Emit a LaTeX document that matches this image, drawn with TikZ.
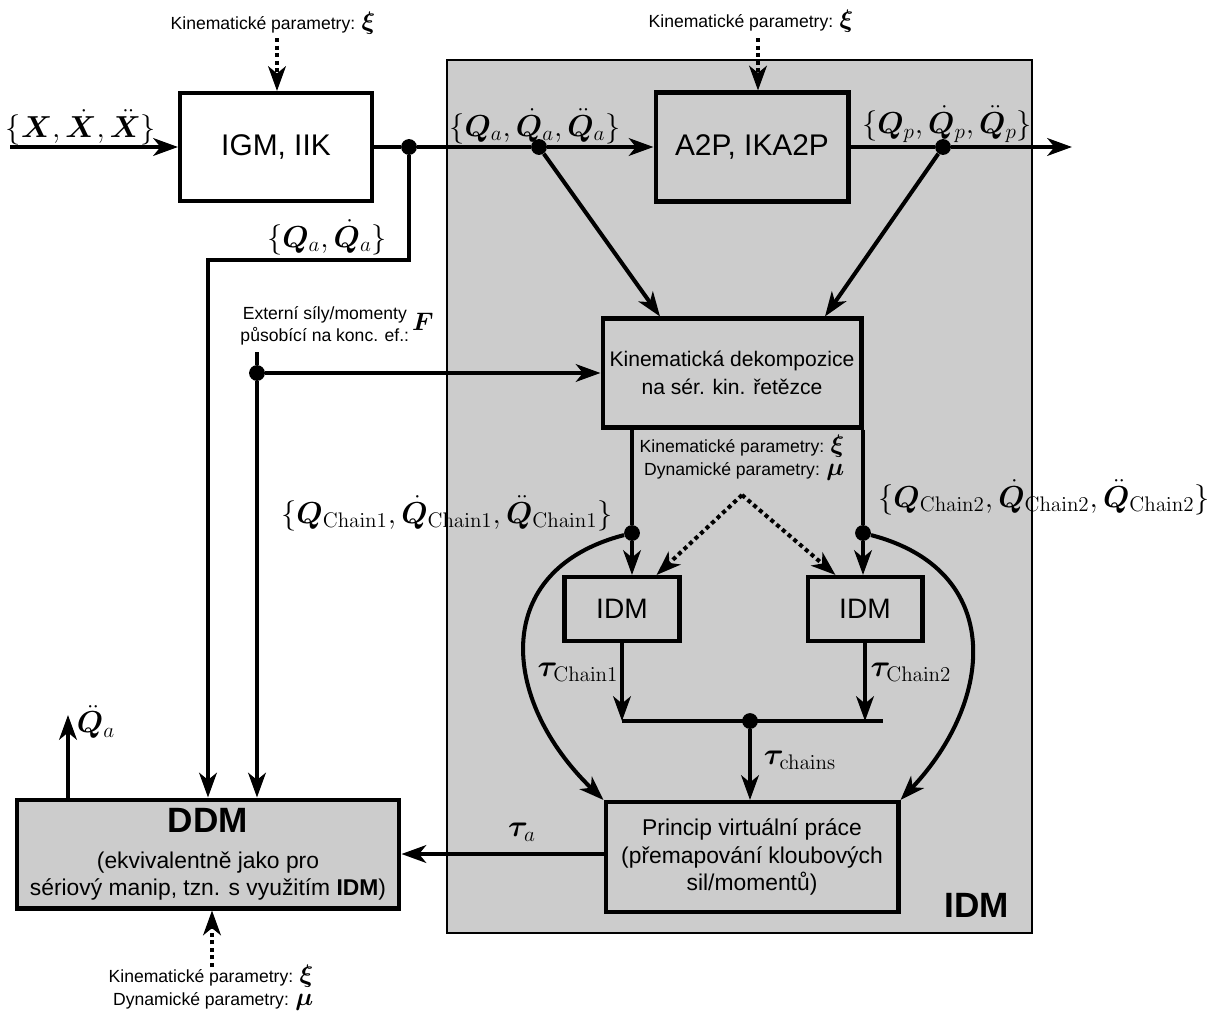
\documentclass[tikz,border=0pt]{standalone}
\usepackage[no-math]{fontspec}
\setmainfont{Liberation Sans}
\usepackage{amsmath, amssymb}
\usepackage{bm}
\usetikzlibrary{arrows.meta}

\newcommand{\kxi}{{\fontsize{14}{14}\selectfont$\bm{\xi}$}}
\newcommand{\dmu}{{\fontsize{14}{14}\selectfont$\bm{\mu}$}}

\tikzset{
	blok/.style = {draw, line width = 2.3pt, inner sep = 0pt, align = center},
	tecka/.style = {circle, fill, inner sep = 0pt, minimum size = 9pt},
	popis/.style = {font = \fontsize{10}{13}\selectfont, inner sep = 0pt, align = right},
	vzorec/.style = {font = \fontsize{17}{20}\selectfont, inner sep = 0pt},
	car/.style = {line width = 2.3pt},
	spoj/.style = {car, -{Stealth[length = 14pt, width = 10pt, inset = 4pt]}},
	tecky/.style = {spoj, dotted},
}

\begin{document}
\begin{tikzpicture}[x = 0.02cm, y = -0.02cm]
		\useasboundingbox (0,0) rectangle (1227,1014);
		\draw [line width = 1.1pt, fill = gray!40] (447,60) rectangle (1032,933);
		\node (lIDM) at (977,905) [font = \fontsize{20}{24}\selectfont\bfseries] {IDM};

		\node (IGM) at (276,147) [blok, minimum width = 3.84cm, minimum height = 2.16cm, font = \fontsize{17}{20}\selectfont] {IGM, IIK};
		\node (A2P) at (752,147) [blok, minimum width = 3.86cm, minimum height = 2.18cm, font = \fontsize{17}{20}\selectfont] {A2P, IKA2P};
		\node (Dek) at (732,373) [blok, minimum width = 5.18cm, minimum height = 2.18cm, font = \fontsize{12}{16}\selectfont] {Kinematická dekompozice\\na sér. kin. řetězce};
		\node (IDMa) at (622,609) [blok, minimum width = 2.3cm, minimum height = 1.28cm, font = \fontsize{16}{19}\selectfont] {IDM};
		\node (IDMb) at (865,609) [blok, minimum width = 2.3cm, minimum height = 1.28cm, font = \fontsize{16}{19}\selectfont] {IDM};
		\node (PVP) at (752,857) [blok, minimum width = 5.86cm, minimum height = 2.2cm, font = \fontsize{13}{15.5}\selectfont] {Princip virtuální práce\\(přemapování kloubových\\sil/momentů)};
		\node (DDM) at (208,854) [blok, fill = gray!40, minimum width = 7.66cm, minimum height = 2.18cm, font = \fontsize{13}{15.5}\selectfont]
			{{\fontsize{20}{24}\selectfont\bfseries DDM}\\[5pt](ekvivalentně jako pro\\sériový manip, tzn. s využitím \textbf{IDM})};

		\node (d1) at (409,147) [tecka] {};
		\node (d2) at (539,147) [tecka] {};
		\node (d3) at (943,147) [tecka] {};
		\node (dF) at (257,373) [tecka] {};
		\node (d4) at (632,533) [tecka] {};
		\node (d5) at (863,533) [tecka] {};
		\node (d6) at (750,721) [tecka] {};
		\coordinate (cIn) at (10,147);
		\coordinate (cOut) at (1072,147);
		\coordinate (c1) at (208,260);
		\coordinate (cF) at (257,352);
		\coordinate (h1) at (622,721);
		\coordinate (h2) at (883,721);
		\coordinate (cQ) at (68,715);
		\coordinate (k1) at (277,38);
		\coordinate (k2) at (758,38);
		\coordinate (k3) at (212,967);
		\coordinate (cV) at (742,495);

		\draw [spoj] (cIn) -- (IGM.west);
		\draw [car] (IGM.east) -- (d1) -- (d2);
		\draw [spoj] (d2) -- (A2P.west);
		\draw [car] (A2P.east) -- (d3);
		\draw [spoj] (d3) -- (cOut);
		\draw [spoj] (d2) -- ([xshift = -1.44cm]Dek.north);
		\draw [spoj] (d3) -- ([xshift = 1.86cm]Dek.north);
		\draw [spoj] (d1) |- (c1) -- (c1 |- DDM.north);
		\draw [car] (cF) -- (dF);
		\draw [spoj] (dF) -- (dF |- DDM.north);
		\draw [spoj] (dF) -- (Dek.west);

		\draw [car] (Dek.south -| d4) -- (d4);
		\draw [car] (Dek.south -| d5) -- (d5);
		\draw [spoj] (d4) -- (d4 |- IDMa.north);
		\draw [spoj] (d5) -- (d5 |- IDMb.north);
		\draw [spoj] (d4) .. controls (490,570) and (500,700) .. (PVP.north west);
		\draw [spoj] (d5) .. controls (1005,570) and (995,700) .. (PVP.north east);

		\draw [spoj] (IDMa.south) -- (IDMa.south |- h1);
		\draw [spoj] (IDMb.south) -- (IDMb.south |- h1);
		\draw [car] (h1) -- (h2);
		\draw [spoj] (d6) -- (d6 |- PVP.north);
		\draw [spoj] (PVP.west |- DDM.east) -- (DDM.east);
		\draw [spoj] (cQ |- DDM.north) -- (cQ);

		\draw [tecky] (k1) -- (k1 |- IGM.north);
		\draw [tecky] (k2) -- (k2 |- A2P.north);
		\draw [tecky] (k3) -- (k3 |- DDM.south);
		\draw [tecky] (cV) -- ([xshift = -0.5cm]IDMa.north east);
		\draw [tecky] (cV) -- ([xshift = 0.6cm]IDMb.north west);

		\node (lK1) at (273,23) [popis] {Kinematické parametry: \kxi};
		\node (lK2) at (751,21) [popis] {Kinematické parametry: \kxi};
		\node (lKm) at (742,458) [popis] {Kinematické parametry: \kxi\\Dynamické parametry: \dmu};
		\node (lKd) at (211,988) [popis] {Kinematické parametry: \kxi\\Dynamické parametry: \dmu};
		\node (lF) at (337,326) [popis, align = center]
			{\begin{tabular}{@{}c@{}}Externí síly/momenty\\působící na konc. ef.:\end{tabular}\,{\fontsize{14}{14}\selectfont$\bm{F}$}};

		\node (lX) at (81,127) [vzorec] {$\{\bm{X},\dot{\bm{X}},\ddot{\bm{X}}\}$};
		\node (lQa) at (535,126) [vzorec] {$\{\bm{Q}_a,\dot{\bm{Q}}_a,\ddot{\bm{Q}}_a\}$};
		\node (lQp) at (947,124) [vzorec] {$\{\bm{Q}_p,\dot{\bm{Q}}_p,\ddot{\bm{Q}}_p\}$};
		\node (lQaQ) at (327,237) [vzorec] {$\{\bm{Q}_a,\dot{\bm{Q}}_a\}$};
		\node (lQc1) at (447,513) [vzorec, font = \fontsize{17.8}{20}\selectfont] {$\{\bm{Q}_{\mathrm{Chain1}},\dot{\bm{Q}}_{\mathrm{Chain1}},\ddot{\bm{Q}}_{\mathrm{Chain1}}\}$};
		\node (lQc2) at (1044,497) [vzorec, font = \fontsize{17.8}{20}\selectfont] {$\{\bm{Q}_{\mathrm{Chain2}},\dot{\bm{Q}}_{\mathrm{Chain2}},\ddot{\bm{Q}}_{\mathrm{Chain2}}\}$};
		\node (lt1) at (578,672) [vzorec] {$\bm{\tau}_{\mathrm{Chain1}}$};
		\node (lt2) at (911,672) [vzorec] {$\bm{\tau}_{\mathrm{Chain2}}$};
		\node (ltc) at (800,760) [vzorec] {$\bm{\tau}_{\mathrm{chains}}$};
		\node (lta) at (522,832) [vzorec] {$\bm{\tau}_a$};
		\node (lQdd) at (96,722) [vzorec] {$\ddot{\bm{Q}}_a$};
\end{tikzpicture}
\end{document}
